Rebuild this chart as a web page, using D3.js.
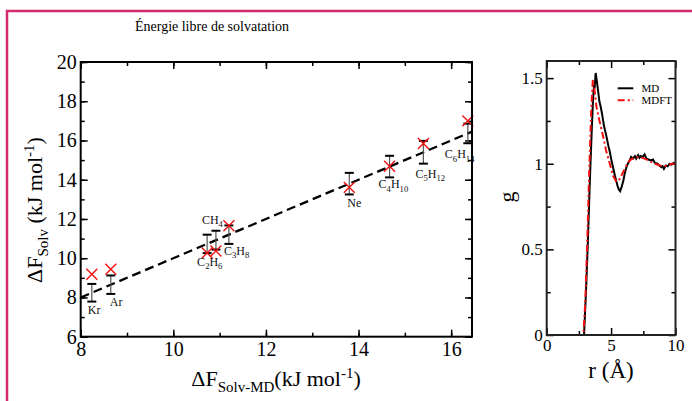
<!DOCTYPE html>
<html>
<head>
<meta charset="utf-8">
<script src="https://cdn.jsdelivr.net/npm/d3@7"></script>
<style>
  body { margin: 0; background: #fff; }
  svg { display: block; }
  svg text { font-family: "Liberation Serif", "Times New Roman", serif; }
</style>
</head>
<body>
<svg id="chart" width="692" height="401"></svg>
<script>
// Left panel: solvation free energies
const molecules = ["Kr", "Ar", "C2H6", "CH4", "C3H8", "Ne", "C4H10", "C5H12", "C6H14"];
const mdValues = [8.24, 8.65, 10.73, 10.92, 11.2, 13.8, 14.67, 15.4, 16.36];
const mdErrors = [0.45, 0.47, 0.47, 0.48, 0.47, 0.55, 0.55, 0.58, 0.5];
const mdftValues = [9.18, 9.44, 10.27, 10.37, 11.65, 13.61, 14.69, 15.85, 17.0];
const leftXTicks = [8, 10, 12, 14, 16];
const leftYTicks = [6, 8, 10, 12, 14, 16, 18, 20];

// Right panel: g(r)
const rMD = [0, 2.9, 3.05, 3.2, 3.35, 3.5, 3.6, 3.68, 3.72, 3.8, 3.9, 4.0, 4.1, 4.2, 4.3, 4.45, 4.64, 4.8, 4.9, 5.0, 5.15, 5.3, 5.4, 5.5, 5.6, 5.7, 5.8, 5.95, 6.05, 6.19, 6.3, 6.45, 6.55, 6.7, 6.85, 6.95, 7.1, 7.2, 7.3, 7.45, 7.6, 7.75, 7.9, 8.05, 8.25, 8.4, 8.6, 8.75, 8.9, 9.0, 9.1, 9.25, 9.4, 9.55, 9.7, 9.85, 10];
const gMD = [0, 0, 0.25, 0.55, 0.9, 1.2, 1.38, 1.46, 1.44, 1.53, 1.48, 1.42, 1.36, 1.33, 1.29, 1.22, 1.16, 1.1, 1.07, 1.03, 0.98, 0.93, 0.9, 0.87, 0.85, 0.84, 0.86, 0.9, 0.94, 0.98, 1.0, 1.02, 1.04, 1.03, 1.045, 1.03, 1.05, 1.035, 1.045, 1.04, 1.055, 1.03, 1.025, 1.02, 1.025, 1.005, 1.0, 0.99, 0.98, 0.985, 0.97, 0.99, 0.985, 1.0, 0.995, 1.005, 1.0];
const rMDFT = [0, 2.85, 3.0, 3.15, 3.3, 3.45, 3.58, 3.7, 3.87, 4.1, 4.38, 4.6, 4.9, 5.15, 5.41, 5.65, 5.93, 6.2, 6.44, 6.8, 7.2, 7.6, 8.0, 8.4, 8.8, 9.1, 9.4, 9.7, 10];
const gMDFT = [0, 0, 0.2, 0.55, 0.95, 1.3, 1.49, 1.44, 1.33, 1.25, 1.16, 1.08, 1.0, 0.93, 0.895, 0.91, 0.95, 0.99, 1.02, 1.035, 1.04, 1.03, 1.015, 1.0, 0.99, 0.985, 0.99, 1.0, 1.0];
const rightXTicks = [0, 5, 10];
const rightYTicks = [0, 0.5, 1, 1.5];
const legendNames = ["MD", "MDFT"];

const svg = d3.select("#chart");

// pink frame around the figure (runs off the page right and bottom)
svg.append("rect")
  .attr("x", 7).attr("y", 11).attr("width", 700).attr("height", 400)
  .attr("fill", "none").attr("stroke", "#d42a6e").attr("stroke-width", 2.5);

// ---------- left panel ----------
const x = d3.scaleLinear().domain([8, 16.45]).range([80.7, 472]);
const y = d3.scaleLinear().domain([6, 20]).range([336.7, 62]);

const minorX = d3.range(8, 17, 1);
const minorY = d3.range(6, 21, 1);

function styleAxis(g, fontSize) {
  g.select(".domain").remove();
  g.selectAll("line").attr("stroke", "#000").attr("stroke-width", 1.5);
  g.selectAll("text").attr("font-size", fontSize).attr("fill", "#000");
}

const left = svg.append("g");

// minor ticks
left.append("g").attr("transform", `translate(0,${y(6)})`)
  .call(d3.axisBottom(x).tickValues(minorX).tickSize(-4).tickFormat(""))
  .call(g => styleAxis(g, 20));
left.append("g").attr("transform", `translate(0,${y(20)})`)
  .call(d3.axisTop(x).tickValues(minorX).tickSize(-4).tickFormat(""))
  .call(g => styleAxis(g, 20));
left.append("g").attr("transform", `translate(${x(8)},0)`)
  .call(d3.axisLeft(y).tickValues(minorY).tickSize(-4).tickFormat(""))
  .call(g => styleAxis(g, 20));
left.append("g").attr("transform", `translate(${x(16.45)},0)`)
  .call(d3.axisRight(y).tickValues(minorY).tickSize(-4).tickFormat(""))
  .call(g => styleAxis(g, 20));

// major ticks
left.append("g").attr("transform", `translate(0,${y(6)})`)
  .call(d3.axisBottom(x).tickValues(leftXTicks).tickSize(-7).tickPadding(5).tickFormat(d3.format("d")))
  .call(g => styleAxis(g, 20));
left.append("g").attr("transform", `translate(0,${y(20)})`)
  .call(d3.axisTop(x).tickValues(leftXTicks).tickSize(-7).tickFormat(""))
  .call(g => styleAxis(g, 20));
left.append("g").attr("transform", `translate(${x(8)},0)`)
  .call(d3.axisLeft(y).tickValues(leftYTicks).tickSize(-7).tickPadding(4).tickFormat(d3.format("d")))
  .call(g => styleAxis(g, 20));
left.append("g").attr("transform", `translate(${x(16.45)},0)`)
  .call(d3.axisRight(y).tickValues(leftYTicks).tickSize(-7).tickFormat(""))
  .call(g => styleAxis(g, 20));

// y = x reference line
const diag = x.domain();
left.append("path")
  .attr("d", d3.line().x(d => x(d)).y(d => y(d))(diag))
  .attr("fill", "none").attr("stroke", "#000").attr("stroke-width", 2.3)
  .attr("stroke-dasharray", "9,5");

// error bars
const pts = molecules.map((m, i) => ({ name: m, md: mdValues[i], err: mdErrors[i], mdft: mdftValues[i] }));
const bars = left.selectAll(".bar").data(pts).enter().append("g").attr("class", "bar");
bars.append("line")
  .attr("x1", d => x(d.md)).attr("x2", d => x(d.md))
  .attr("y1", d => y(d.md + d.err)).attr("y2", d => y(d.md - d.err))
  .attr("stroke", "#555").attr("stroke-width", 1.2);
[1, -1].forEach(s => {
  bars.append("line")
    .attr("x1", d => x(d.md) - 4.5).attr("x2", d => x(d.md) + 4.5)
    .attr("y1", d => y(d.md + s * d.err)).attr("y2", d => y(d.md + s * d.err))
    .attr("stroke", "#000").attr("stroke-width", 2);
});

// MDFT crosses
left.selectAll(".cross").data(pts).enter().append("path")
  .attr("transform", d => `translate(${x(d.md)},${y(d.mdft)})`)
  .attr("d", d3.symbol(d3.symbolX, 80))
  .attr("fill", "none").attr("stroke", "#f01010").attr("stroke-width", 1.4);

// molecule labels, offsets from the bottom of each bar
const labelOffsets = {
  Kr: [-4, 12], Ar: [-1, 12], C2H6: [-10, 12.5], CH4: [-14, -26], C3H8: [-5, 11],
  Ne: [-2, 13], C4H10: [-11, 11], C5H12: [-8, 14], C6H14: [-23, 15]
};
function formula(sel, text, base) {
  const parts = text.match(/[A-Za-z]+|\d+/g);
  let sub = false;
  parts.forEach(p => {
    const isNum = /\d/.test(p);
    sel.append("tspan")
      .attr("font-size", isNum ? base * 0.72 : base)
      .attr("dy", isNum && !sub ? base * 0.3 : (!isNum && sub ? -base * 0.3 : 0))
      .text(p);
    sub = isNum;
  });
}
pts.forEach(d => {
  const o = labelOffsets[d.name];
  const t = left.append("text")
    .attr("x", x(d.md) + o[0]).attr("y", y(d.md - d.err) + o[1])
    .attr("fill", "#111");
  formula(t, d.name, 12);
});

// titles and axis labels
svg.append("text").attr("x", 212).attr("y", 31).attr("text-anchor", "middle")
  .attr("font-size", 14).text("Énergie libre de solvatation");

const xl = svg.append("text").attr("x", 276).attr("y", 386).attr("text-anchor", "middle")
  .attr("font-size", 22);
xl.append("tspan").text("ΔF");
xl.append("tspan").attr("font-size", 15).attr("dy", 6).text("Solv-MD");
xl.append("tspan").attr("dy", -6).text("(kJ mol");
xl.append("tspan").attr("font-size", 15).attr("dy", -8).text("-1");
xl.append("tspan").attr("dy", 8).text(")");

const yl = svg.append("text").attr("transform", "translate(42,210) rotate(-90)")
  .attr("text-anchor", "middle").attr("font-size", 22);
yl.append("tspan").text("ΔF");
yl.append("tspan").attr("font-size", 15).attr("dy", 6).text("Solv");
yl.append("tspan").attr("dy", -6).text(" (kJ mol");
yl.append("tspan").attr("font-size", 15).attr("dy", -8).text("-1");
yl.append("tspan").attr("dy", 8).text(")");

// ---------- right panel ----------
const rx = d3.scaleLinear().domain([0, 10]).range([546.7, 675.5]);
const ry = d3.scaleLinear().domain([0, 1.6]).range([335, 61]);
const right = svg.append("g");

const rMinorX = [2.5, 7.5];
const rMinorY = [0.25, 0.75, 1.25];

right.append("g").attr("transform", `translate(0,${ry(0)})`)
  .call(d3.axisBottom(rx).tickValues(rMinorX).tickSize(-4).tickFormat(""))
  .call(g => styleAxis(g, 17));
right.append("g").attr("transform", `translate(0,${ry(1.6)})`)
  .call(d3.axisTop(rx).tickValues(rMinorX).tickSize(-4).tickFormat(""))
  .call(g => styleAxis(g, 17));
right.append("g").attr("transform", `translate(${rx(0)},0)`)
  .call(d3.axisLeft(ry).tickValues(rMinorY).tickSize(-4).tickFormat(""))
  .call(g => styleAxis(g, 17));
right.append("g").attr("transform", `translate(${rx(10)},0)`)
  .call(d3.axisRight(ry).tickValues(rMinorY).tickSize(-4).tickFormat(""))
  .call(g => styleAxis(g, 17));

right.append("g").attr("transform", `translate(0,${ry(0)})`)
  .call(d3.axisBottom(rx).tickValues(rightXTicks).tickSize(-7).tickPadding(4).tickFormat(d3.format("d")))
  .call(g => styleAxis(g, 17));
right.append("g").attr("transform", `translate(0,${ry(1.6)})`)
  .call(d3.axisTop(rx).tickValues(rightXTicks).tickSize(-7).tickFormat(""))
  .call(g => styleAxis(g, 17));
right.append("g").attr("transform", `translate(${rx(0)},0)`)
  .call(d3.axisLeft(ry).tickValues(rightYTicks).tickSize(-7).tickPadding(4).tickFormat(d => String(d)))
  .call(g => styleAxis(g, 17));
right.append("g").attr("transform", `translate(${rx(10)},0)`)
  .call(d3.axisRight(ry).tickValues(rightYTicks).tickSize(-7).tickFormat(""))
  .call(g => styleAxis(g, 17));

const gLine = d3.line().x(d => rx(d[0])).y(d => ry(d[1]));
right.append("path")
  .attr("d", gLine(d3.zip(rMD, gMD)))
  .attr("fill", "none").attr("stroke", "#000").attr("stroke-width", 2);
right.append("path")
  .attr("d", gLine(d3.zip(rMDFT, gMDFT)))
  .attr("fill", "none").attr("stroke", "#f01010").attr("stroke-width", 2)
  .attr("stroke-dasharray", "7,3,2,3");

// frame
left.append("rect").attr("x", x(8)).attr("y", y(20))
  .attr("width", x(16.45) - x(8)).attr("height", y(6) - y(20))
  .attr("fill", "none").attr("stroke", "#000").attr("stroke-width", 2);
right.append("rect").attr("x", rx(0)).attr("y", ry(1.6))
  .attr("width", rx(10) - rx(0)).attr("height", ry(0) - ry(1.6))
  .attr("fill", "none").attr("stroke", "#222").attr("stroke-width", 2);

// legend
const legendStyles = [
  { color: "#000", dash: null },
  { color: "#f01010", dash: "7,3,2,3" }
];
legendNames.forEach((name, i) => {
  const ly = 88.3 + i * 12;
  right.append("line").attr("x1", 617.7).attr("x2", 633.3).attr("y1", ly).attr("y2", ly)
    .attr("stroke", legendStyles[i].color).attr("stroke-width", 2)
    .attr("stroke-dasharray", legendStyles[i].dash);
  right.append("text").attr("x", 641.5).attr("y", ly + 3.8)
    .attr("font-size", 11).text(name);
});

svg.append("text").attr("transform", "translate(514,197) rotate(-90)")
  .attr("text-anchor", "middle").attr("font-size", 22).text("g");
svg.append("text").attr("x", 611).attr("y", 378).attr("text-anchor", "middle")
  .attr("font-size", 23).text("r (Å)");
</script>
</body>
</html>
